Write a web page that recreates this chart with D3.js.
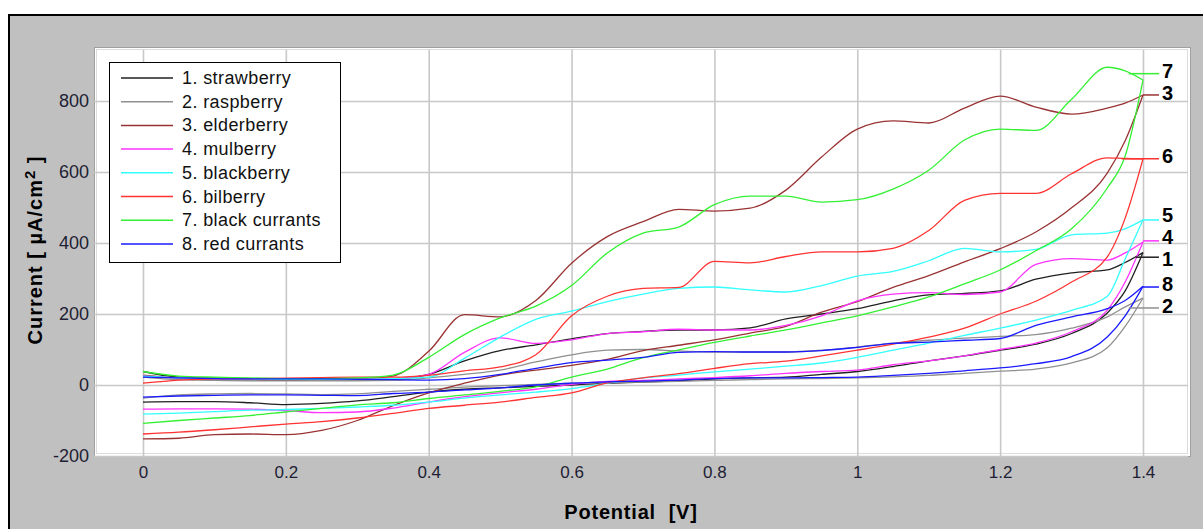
<!DOCTYPE html>
<html>
<head>
<meta charset="utf-8">
<script src="https://cdn.jsdelivr.net/npm/d3@7"></script>
<style>
  body { margin: 0; background: #fff; }
  svg { display: block; }
  text { font-family: "Liberation Sans", Arial, sans-serif; }
</style>
</head>
<body>
<svg id="chart" width="1203" height="529"></svg>
<script>
// potential grid (V), shared by every branch
var potentials = [0, 0.05, 0.1, 0.15, 0.2, 0.25, 0.3, 0.35, 0.4, 0.45, 0.5, 0.55, 0.6, 0.65, 0.7,
                  0.75, 0.8, 0.85, 0.9, 0.95, 1, 1.05, 1.1, 1.15, 1.2, 1.25, 1.3, 1.35, 1.375, 1.4];

var names = ["1. strawberry", "2. raspberry", "3. elderberry", "4. mulberry",
             "5. blackberry", "6. bilberry", "7. black currants", "8. red currants"];
var colors = ["#202020", "#909090", "#993333", "#ff33ff", "#33ffff", "#ff3333", "#33f033", "#1a1aff"];

// anodic (forward) branch, current in uA/cm2 at each potential
var fwd1 = [38,22,19,18,17,16,16,17,30,68,97,113,130,145,151,155,155,161,186,200,215,237,254,258,265,298,316,324,345,373];
var fwd2 = [22,15,13,12,12,12,12,13,20,30,42,65,85,98,100,96,93,93,93,98,107,118,126,132,137,142,160,192,220,245];
var fwd3 = [28,20,18,16,15,16,17,25,95,198,192,238,343,418,460,495,490,498,549,642,721,744,738,780,814,783,763,780,794,817];
var fwd4 = [25,20,18,17,16,16,16,18,30,92,133,117,127,145,150,157,155,155,168,195,237,256,260,255,262,340,356,352,372,403];
var fwd5 = [25,20,18,17,16,16,16,18,22,75,135,185,208,235,256,272,276,268,262,280,307,320,350,385,375,382,423,428,440,465];
var fwd6 = [5,14,17,18,19,21,22,22,27,40,51,85,195,250,272,275,348,344,362,375,375,385,435,520,540,540,595,640,638,637];
var fwd7 = [38,25,22,20,18,18,20,28,78,142,189,222,280,372,428,445,508,532,532,515,522,552,605,690,721,717,805,895,885,859];
var fwd8 = [22,20,18,17,17,17,16,15,14,18,30,47,63,70,78,92,94,93,93,97,106,117,121,126,131,168,192,215,238,278];

// cathodic (return) branch, same potential order (0 -> 1.4)
var rev1 = [-48,-47,-47,-50,-55,-52,-45,-33,-20,-12,-8,-4,0,5,8,12,17,20,22,30,38,52,68,82,98,115,145,203,265,373];
var rev2 = [-37,-28,-25,-24,-25,-27,-25,-18,-12,-6,-2,2,5,7,8,10,13,15,17,18,20,23,27,33,39,45,62,105,165,245];
var rev3 = [-152,-150,-140,-138,-140,-128,-100,-58,-22,5,28,42,55,72,97,112,127,146,165,205,235,275,308,347,384,431,499,597,688,817];
var rev4 = [-68,-67,-67,-68,-72,-78,-76,-65,-48,-33,-22,-12,2,10,13,17,21,26,33,38,42,57,68,82,100,118,150,211,290,403];
var rev5 = [-82,-79,-75,-71,-69,-66,-62,-57,-48,-37,-28,-20,-10,5,20,28,37,45,53,62,78,98,118,140,160,183,210,250,355,465];
var rev6 = [-138,-133,-126,-118,-110,-103,-93,-80,-66,-57,-48,-35,-22,6,20,32,47,60,67,82,98,115,135,160,200,236,290,361,470,637];
var rev7 = [-108,-100,-93,-86,-76,-66,-56,-50,-38,-28,-18,-5,22,45,77,99,120,138,155,175,195,220,248,285,324,378,440,555,645,859];
var rev8 = [-34,-31,-29,-28,-28,-29,-30,-24,-20,-14,-8,0,5,9,11,14,18,20,20,21,22,27,33,40,48,60,80,135,195,278];

var forward = [fwd1, fwd2, fwd3, fwd4, fwd5, fwd6, fwd7, fwd8];
var reverse = [rev1, rev2, rev3, rev4, rev5, rev6, rev7, rev8];

// numbered tags at the right end
var tagValues = [360, 217, 817, 406, 465, 637, 877, 276];
var tagFrom = [1.39, 1.38, 1.4, 1.4, 1.4, 1.37, 1.38, 1.4];

var xTicks = [0, 0.2, 0.4, 0.6, 0.8, 1, 1.2, 1.4];
var yTicks = [-200, 0, 200, 400, 600, 800];

var svg = d3.select("#chart");

var plot = {left: 94, top: 47, right: 1191, bottom: 457};

var x = d3.scaleLinear().domain([0, 1.4]).range([143, 1143]);
var y = d3.scaleLinear().domain([-200, 800]).range([456, 101]);

// grey frame
svg.append("rect")
  .attr("x", 9).attr("y", 15)
  .attr("width", 1220).attr("height", 540)
  .attr("fill", "#c0c0c0")
  .attr("stroke", "#000")
  .attr("stroke-width", 2);

svg.append("rect")
  .attr("x", plot.left + 0.5).attr("y", plot.top + 0.5)
  .attr("width", plot.right - plot.left - 1).attr("height", plot.bottom - plot.top - 1)
  .attr("fill", "#fff")
  .attr("stroke", "#a0a0a0");
svg.append("rect")
  .attr("x", plot.left + 2.5).attr("y", plot.top + 2.5)
  .attr("width", plot.right - plot.left - 6).attr("height", plot.bottom - plot.top - 6)
  .attr("fill", "none")
  .attr("stroke", "#dcdcdc");

// axes, with the ticks stretched into grid lines
var yAxis = d3.axisLeft(y)
  .tickValues(yTicks)
  .tickSize(-(plot.right - plot.left - 3))
  .tickPadding(5)
  .tickFormat(function (d) { return String(d); });

var xAxis = d3.axisBottom(x)
  .tickValues(xTicks)
  .tickSize(-(plot.bottom - plot.top - 3))
  .tickPadding(9)
  .tickFormat(function (d) { return String(d); });

var gy = svg.append("g")
  .attr("transform", "translate(" + plot.left + ",0)")
  .call(yAxis);
var gx = svg.append("g")
  .attr("transform", "translate(0," + plot.bottom + ")")
  .call(xAxis);

[gx, gy].forEach(function (g) {
  g.select(".domain").remove();
  g.selectAll(".tick line").attr("stroke", "#c8c8c8").attr("stroke-width", 1.6);
  g.selectAll(".tick text")
    .attr("fill", "#1e1e34")
    .style("font-family", '"Liberation Sans", Arial, sans-serif');
});
gy.selectAll(".tick text").style("font-size", "18px");
gx.selectAll(".tick text").style("font-size", "17px");

// curves: forward branch then return branch
var line = d3.line()
  .x(function (d) { return x(d[0]); })
  .y(function (d) { return y(d[1]); })
  .curve(d3.curveMonotoneX);

var curves = svg.append("g").attr("fill", "none").attr("stroke-width", 1.3);

forward.forEach(function (f, i) {
  var up = potentials.map(function (p, k) { return [p, f[k]]; });
  var down = potentials.map(function (p, k) { return [p, reverse[i][k]]; });
  curves.append("path").attr("d", line(up)).attr("stroke", colors[i]);
  curves.append("path").attr("d", line(down)).attr("stroke", colors[i]);
});

// tag label centres, pushed apart a little so the digits don't collide
var tagY = tagValues.map(function (v) { return y(v) - 3; });
var order = d3.range(tagY.length).sort(function (a, b) { return tagY[a] - tagY[b]; });
for (var it = 0; it < 30; it++) {
  for (var k = 1; k < order.length; k++) {
    var a = order[k - 1], b = order[k];
    var gap = tagY[b] - tagY[a];
    if (gap < 22) {
      tagY[a] -= (22 - gap) / 2;
      tagY[b] += (22 - gap) / 2;
    }
  }
}

var tags = svg.append("g");
tagValues.forEach(function (v, i) {
  tags.append("line")
    .attr("x1", x(tagFrom[i])).attr("x2", 1159)
    .attr("y1", y(v)).attr("y2", y(v))
    .attr("stroke", colors[i]).attr("stroke-width", 1.5);
  tags.append("text")
    .attr("x", 1162).attr("y", tagY[i] + 7.5)
    .attr("font-size", 20).attr("font-weight", "bold")
    .attr("fill", "#000")
    .text(String(i + 1));
});

// legend
var legend = svg.append("g");
legend.append("rect")
  .attr("x", 109.5).attr("y", 62.5)
  .attr("width", 231).attr("height", 200)
  .attr("fill", "#fff").attr("stroke", "#000");

names.forEach(function (n, i) {
  var ry = 78 + i * 23.7;
  legend.append("line")
    .attr("x1", 121).attr("x2", 173)
    .attr("y1", ry).attr("y2", ry)
    .attr("stroke", colors[i]).attr("stroke-width", 1.5);
  legend.append("text")
    .attr("x", 182).attr("y", ry + 6)
    .attr("font-size", 18)
    .attr("letter-spacing", 0.4)
    .attr("fill", "#111")
    .text(n);
});

// axis titles
var yt = svg.append("text")
  .attr("transform", "translate(42,250) rotate(-90)")
  .attr("text-anchor", "middle")
  .attr("font-size", 20).attr("font-weight", "bold")
  .attr("letter-spacing", 1)
  .attr("fill", "#000");
yt.append("tspan").text("Current [ µA/cm");
yt.append("tspan").attr("font-size", 15).attr("dy", -7).text("2");
yt.append("tspan").attr("dy", 7).text(" ]");

svg.append("text")
  .attr("x", 631).attr("y", 519)
  .attr("text-anchor", "middle")
  .attr("font-size", 20).attr("font-weight", "bold")
  .attr("letter-spacing", 0.8)
  .attr("fill", "#000")
  .style("white-space", "pre")
  .text("Potential  [V]");
</script>
</body>
</html>
